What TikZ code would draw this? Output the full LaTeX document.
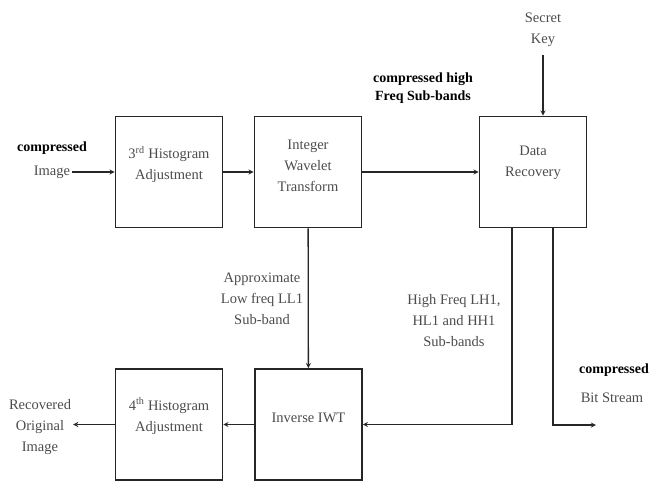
\documentclass[tikz,border=0pt]{standalone}
\usepackage{fontspec}
\setmainfont{LiberationSerif}[Extension=.ttf, UprightFont=*-Regular, BoldFont=*-Bold, ItalicFont=*-Italic, BoldItalicFont=*-BoldItalic]
\usetikzlibrary{arrows}

\tikzset{
  block/.style={draw=black!85, line width=1.6pt, minimum width=107pt, minimum height=111pt,
    align=center, text=black!70, inner sep=2pt},
  txt/.style={align=center, text=black!70, inner sep=2pt},
  bold/.style={align=center, text=black, font=\fontsize{14}{18}\selectfont\bfseries, inner sep=1pt},
  link/.style={->, line width=1.3pt, draw=black!85}
}

\begin{document}
\begin{tikzpicture}[>=stealth, x=1pt, y=-1pt, font=\fontsize{14.5}{21}\selectfont]
        \useasboundingbox (0,0) rectangle (654,483);

        % blocks
        \node[block] (hista) at (169,172) {3\textsuperscript{rd} Histogram\\Adjustment\\[-3pt]};
        \node[block] (iwt) at (308,172) {Integer\\Wavelet\\Transform\\[-9pt]};
        \node[block] (recov) at (533,172) {Data\\Recovery\\[1pt]};
        \node[block] (inviwt) at (308.5,424.5) {Inverse IWT\\[-7pt]};
        \node[block] (histb) at (169,424.5) {4\textsuperscript{th} Histogram\\Adjustment\\[-1pt]};

        % texts
        \node[bold] (cmpa) at (52,148) {compressed};
        \node[txt] (img) at (52,172) {Image};
        \node[txt] (key) at (543,30) {Secret\\Key};
        \node[bold] (cmpb) at (423,88) {compressed high\\Freq Sub-bands};
        \node[txt] (lowf) at (262,299) {Approximate\\Low freq LL1\\Sub-band};
        \node[txt] (highf) at (454,321) {High Freq LH1,\\HL1 and HH1\\Sub-bands};
        \node[bold] (cmpc) at (614,370) {compressed};
        \node[txt] (bits) at (612,398) {Bit Stream};
        \node[txt] (rec) at (40,427) {Recovered\\Original\\Image};
        \coordinate (bitout) at (596,425);

        % connectors
        \draw[link] (img) -- (hista);
        \draw[link] (hista) -- (iwt);
        \draw[link] (iwt) -- (recov);
        \draw[link] ([yshift=-6pt]key.south) -- (key.south |- recov.north);
        \draw[link] (iwt) -- (inviwt);
        \draw[link] ([xshift=-21pt]recov.south) |- (inviwt.east);
        \draw[link] ([xshift=20pt]recov.south) |- (bitout);
        \draw[link] (inviwt) -- (histb);
        \draw[link] (histb) -- (rec.east |- histb.west);
\end{tikzpicture}
\end{document}
